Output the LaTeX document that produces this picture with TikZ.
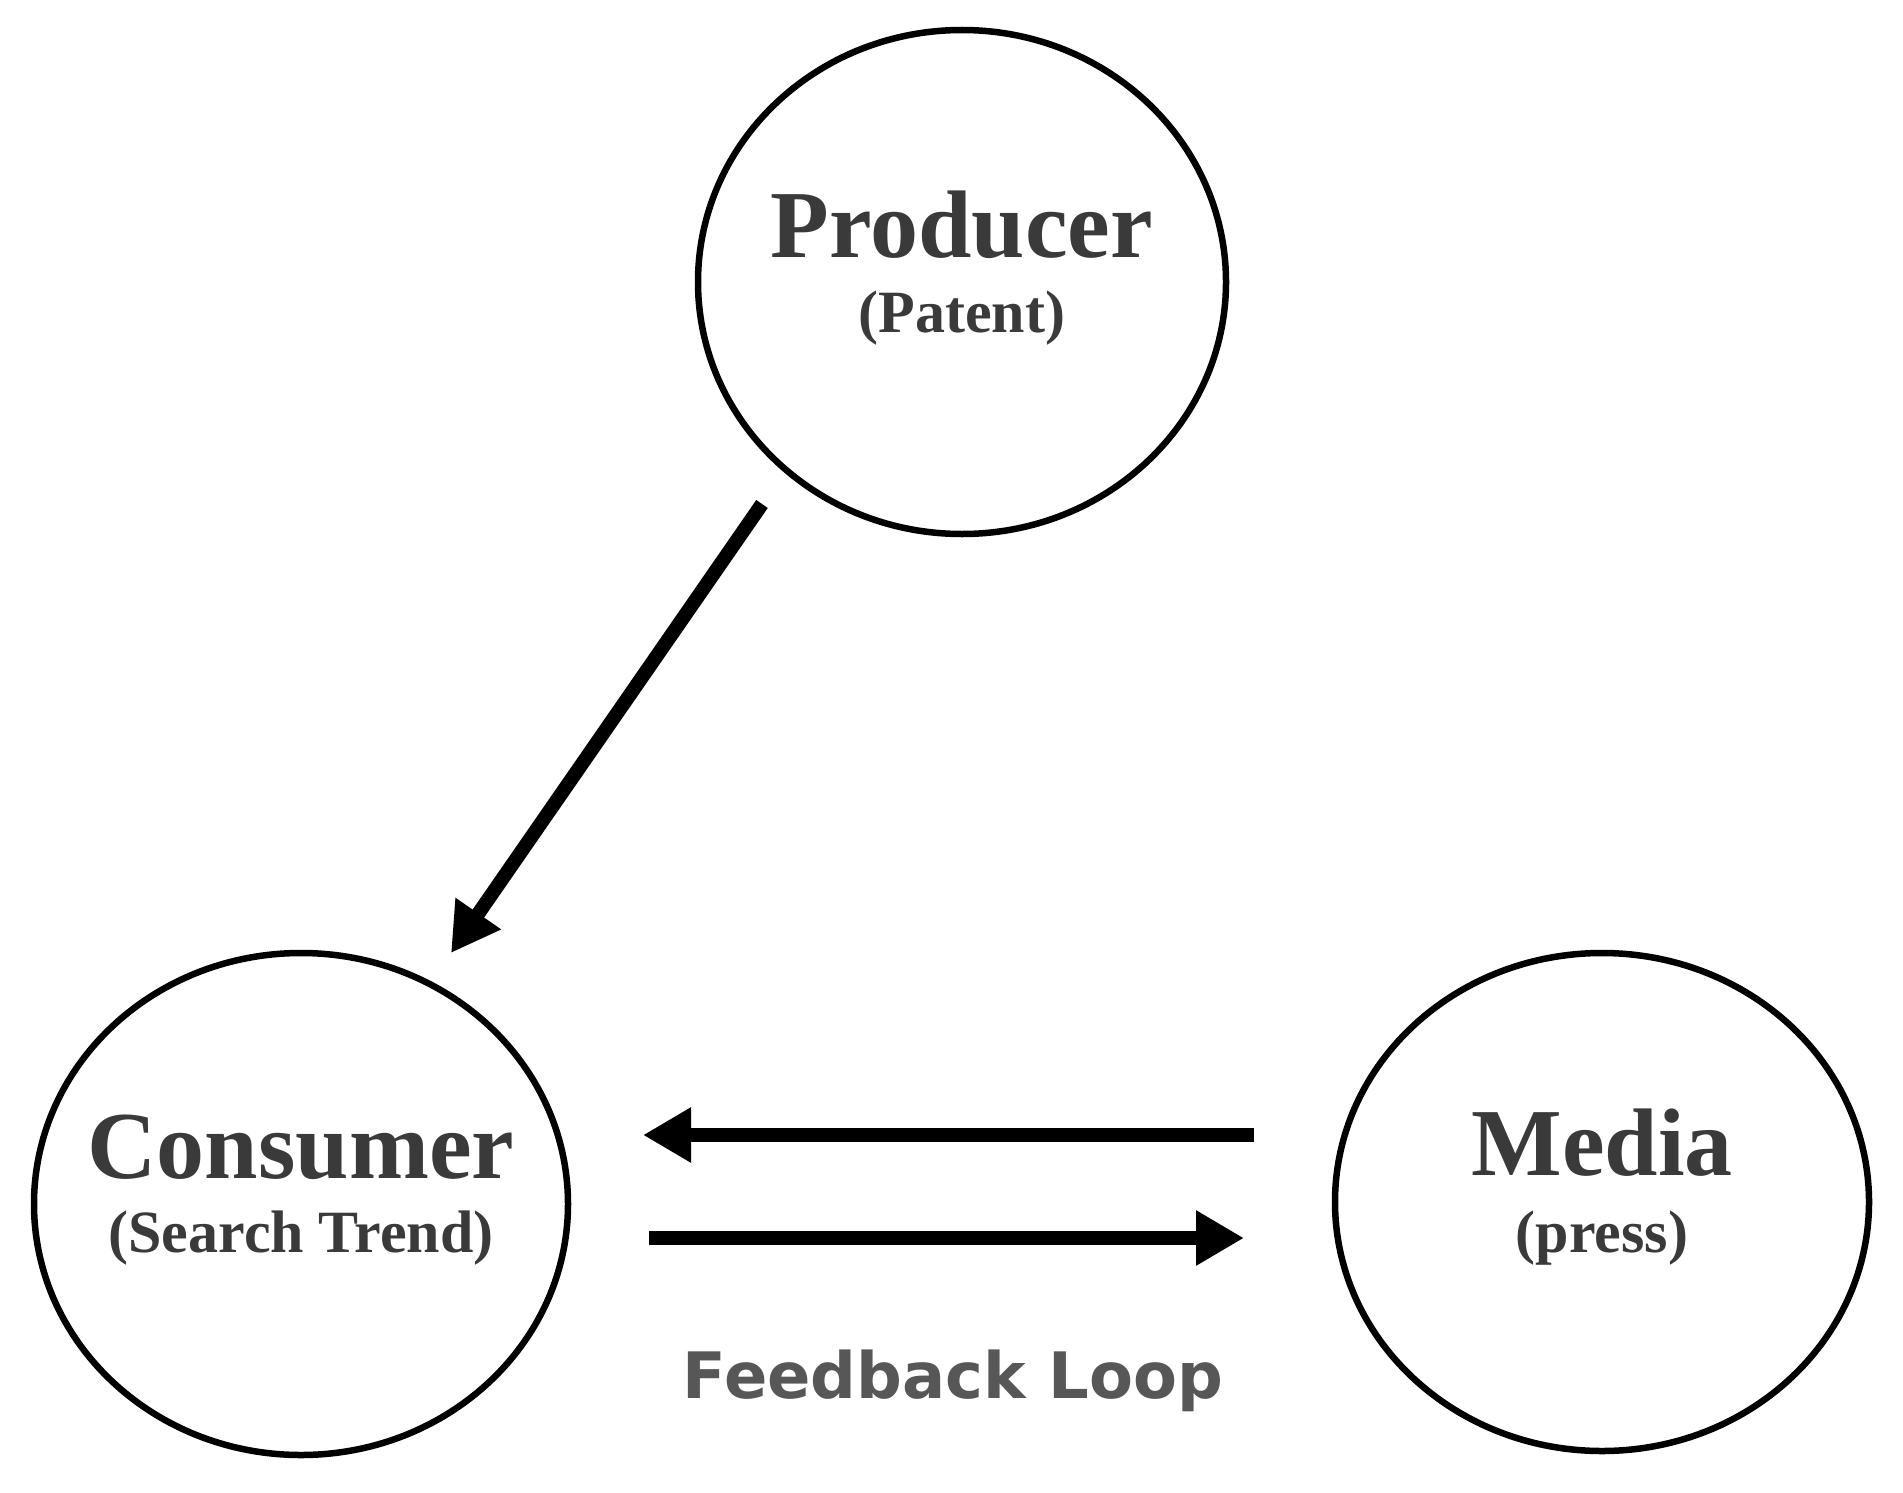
\documentclass[tikz,border=0pt]{standalone}
\usepackage{fontspec}
\setmainfont{Liberation Serif}
\newfontfamily\sansf{DejaVu Sans}
\usetikzlibrary{shapes.geometric,arrows.meta}
\definecolor{txt}{HTML}{3A3A3A}
\begin{document}
\begin{tikzpicture}[x=1pt,y=-1pt,
  circ/.style={draw,line width=6.5pt,ellipse},
  big/.style={font=\fontsize{96}{98}\selectfont\bfseries,text=txt},
  small/.style={font=\fontsize{60}{62}\selectfont\bfseries,text=txt},
  arr/.style={line width=14pt,-{Triangle[length=48pt,width=52pt]}}]
\useasboundingbox (0,0) rectangle (1903,1493);
\node[circ,minimum width=528pt,minimum height=504pt] (prod) at (962,282) {};
\node[circ,minimum width=534pt,minimum height=502pt] (cons) at (301,1204) {};
\node[circ,minimum width=534pt,minimum height=498pt] (med) at (1602,1202) {};
\node[big] (t1) at (962,225) {Producer};
\node[small] (s1) at (962,318) {(Patent)};
\node[big] (t2) at (301,1147) {Consumer};
\node[small] (s2) at (301,1238) {(Search Trend)};
\node[big] (t3) at (1602,1143) {Media};
\node[small] (s3) at (1602,1238) {(press)};
\node[font=\fontsize{64}{66}\selectfont\sansf\bfseries,text=txt!85] (fb) at (953,1381) {Feedback Loop};
\coordinate (a1) at (762,504); \coordinate (b1) at (451,953);
\coordinate (a2) at (1254,1135); \coordinate (b2) at (643,1135);
\coordinate (a3) at (649,1238); \coordinate (b3) at (1244,1238);
\draw[arr] (a1) -- (b1);
\draw[arr] (a2) -- (b2);
\draw[arr] (a3) -- (b3);
\end{tikzpicture}
\end{document}
